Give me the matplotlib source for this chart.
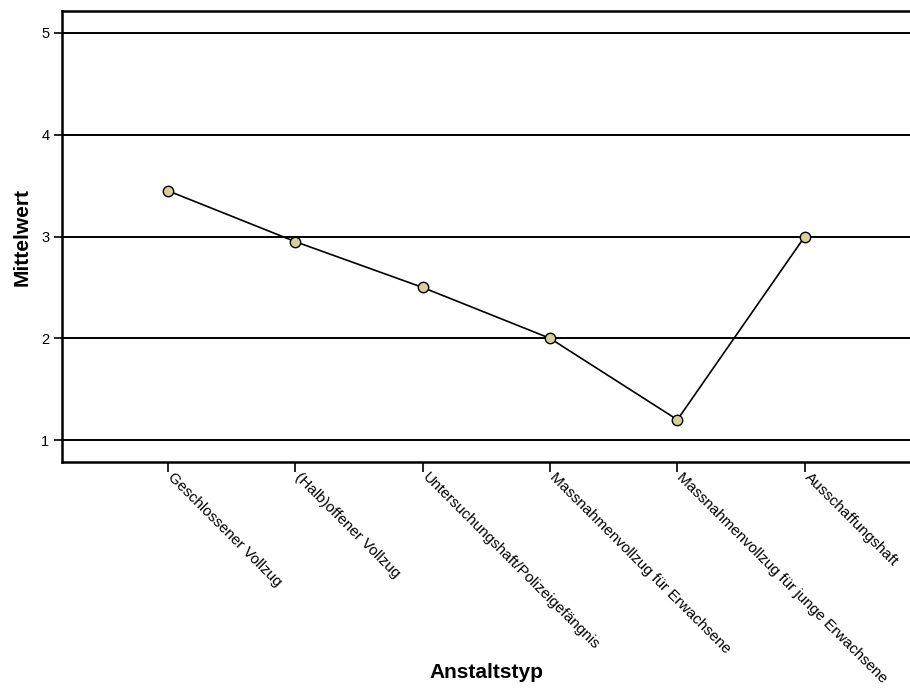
import matplotlib
matplotlib.use("Agg")
import matplotlib.pyplot as plt

categories = ["Geschlossener Vollzug", "(Halb)offener Vollzug",
              "Untersuchungshaft/Polizeigefängnis",
              "Massnahmenvollzug für Erwachsene",
              "Massnahmenvollzug für junge Erwachsene",
              "Ausschaffungshaft"]
means = [3.45, 2.95, 2.5, 2.0, 1.2, 3.0]
yticks = [1, 2, 3, 4, 5]

plt.rcParams['font.family'] = ['Liberation Sans', 'DejaVu Sans']

fig = plt.figure(figsize=(9.10, 6.89), dpi=100)
ax = fig.add_axes([62/910, 1 - 462/689, 1 - 62/910 + 0.002, (462 - 11)/689])

x = list(range(len(categories)))
for yv in yticks:
    ax.axhline(yv, color='black', lw=1.4, zorder=1)
ax.plot(x, means, color='black', lw=1.2, zorder=2,
        marker='o', markersize=7.5, markerfacecolor='#d6d09a',
        markeredgecolor='black', markeredgewidth=1.0)

ax.set_xlim(-0.83, 5.84)
ax.set_ylim(0.785, 5.215)
ax.set_yticks(yticks)
ax.set_yticklabels([str(v) for v in yticks], fontsize=10.5)
ax.set_xticks(x)
ax.set_xticklabels([''] * len(categories))
px = 72 / 100
for xi, lab in zip(x, categories):
    ax.annotate(lab, xy=(xi, 0), xycoords=('data', 'axes fraction'),
                xytext=(7 * px, -8 * px), textcoords='offset points',
                rotation=-45, ha='left', va='top', rotation_mode='anchor',
                fontsize=11, annotation_clip=False)
ax.tick_params(axis='y', length=6, width=1.2, pad=3)
ax.tick_params(axis='x', length=7, width=1.2, pad=1)
for s in ['left', 'bottom', 'top']:
    ax.spines[s].set_linewidth(1.8)
ax.spines['right'].set_visible(False)

fig.text(22/910, 1 - 237/689, 'Mittelwert', ha='center', va='center',
         rotation=90, fontsize=15, fontweight='bold')
fig.text((62 + 910) / 2 / 910, 1 - 672/689, 'Anstaltstyp', ha='center', va='center',
         fontsize=15, fontweight='bold')

fig.savefig('out.png', dpi=100)
